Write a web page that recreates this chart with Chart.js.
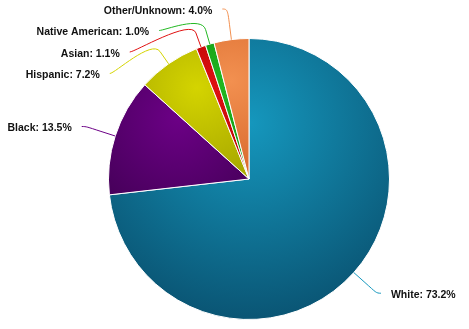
<!DOCTYPE html>
<html>
<head>
<meta charset="utf-8">
<script src="https://cdn.jsdelivr.net/npm/chart.js@4"></script>
<style>
  html, body { margin: 0; padding: 0; background: #fff; }
  #wrap { width: 469px; height: 329px; }
</style>
</head>
<body>
<div id="wrap"><canvas id="chartCanvas"></canvas></div>
<script>
const categories = ['White', 'Black', 'Hispanic', 'Asian', 'Native American', 'Other/Unknown'];
const shares = [73.2, 13.5, 7.2, 1.1, 1.0, 4.0];
const sliceColors = ['#1597bd', '#6c0086', '#d4d400', '#e01212', '#22b822', '#f29050'];
const sliceShades = ['#0a5574', '#48005c', '#aaaa00', '#b00000', '#0f900f', '#d8682c'];

const total = shares.reduce((a, b) => a + b, 0);

// radial gradient per slice, centred at (0.5, 0.3) of the slice box
function sliceGradient(c) {
  const chart = c.chart, area = chart.chartArea, i = c.dataIndex;
  const base = sliceColors[i];
  if (!area) return base;
  const cx = (area.left + area.right) / 2, cy = (area.top + area.bottom) / 2;
  const r = (Math.min(area.right - area.left, area.bottom - area.top) - 1) / 2;
  let a0 = -Math.PI / 2;
  for (let k = 0; k < i; k++) a0 += shares[k] / total * 2 * Math.PI;
  const a1 = a0 + shares[i] / total * 2 * Math.PI;
  const xs = [cx, cx + r * Math.cos(a0), cx + r * Math.cos(a1)];
  const ys = [cy, cy + r * Math.sin(a0), cy + r * Math.sin(a1)];
  for (let q = -4; q <= 8; q++) {
    const a = q * Math.PI / 2;
    if (a > a0 && a < a1) { xs.push(cx + r * Math.cos(a)); ys.push(cy + r * Math.sin(a)); }
  }
  const x0 = Math.min(...xs), x1 = Math.max(...xs), y0 = Math.min(...ys), y1 = Math.max(...ys);
  const gx = x0 + 0.5 * (x1 - x0), gy = y0 + 0.3 * (y1 - y0);
  const gr = 0.7 * Math.max(x1 - x0, y1 - y0);
  const g = chart.ctx.createRadialGradient(gx, gy, 0, gx, gy, gr);
  g.addColorStop(0, base);
  g.addColorStop(1, sliceShades[i]);
  return g;
}

const labelPlugin = {
  id: 'pieLabels',
  afterDatasetsDraw(chart) {
    const meta = chart.getDatasetMeta(0);
    const ctx = chart.ctx;
    const dist = 31, gap = 21.5, breakOff = 15;
    const items = meta.data.map((arc, i) => {
      const mid = (arc.startAngle + arc.endAngle) / 2;
      const R = arc.outerRadius;
      return { i, arc, mid, R, left: Math.cos(mid) < 0, y: arc.y + (R + dist) * Math.sin(mid) };
    });
    [true, false].forEach(side => {
      const group = items.filter(it => it.left === side).sort((a, b) => a.y - b.y);
      let prev = -Infinity;
      group.forEach(it => { it.y = Math.max(it.y, prev + gap, 9); prev = it.y; });
    });

    ctx.save();
    ctx.font = "bold 10.5px 'Liberation Sans', Arial, sans-serif";
    ctx.textBaseline = 'middle';
    items.forEach(it => {
      const arc = it.arc;
      const RL = it.R + dist;
      const s = Math.max(-1, Math.min(1, (it.y - arc.y) / RL));
      const dir = it.left ? -1 : 1;
      const ax = arc.x + dir * (RL * Math.cos(Math.asin(s)) + 4);
      const tx = arc.x + it.R * Math.cos(it.mid), ty = arc.y + it.R * Math.sin(it.mid);
      const bx = arc.x + (it.R + breakOff) * Math.cos(it.mid), by = arc.y + (it.R + breakOff) * Math.sin(it.mid);

      ctx.beginPath();
      ctx.moveTo(ax, it.y);
      ctx.bezierCurveTo(ax - dir * 5, it.y, 2 * bx - tx, 2 * by - ty, bx, by);
      ctx.lineTo(tx, ty);
      ctx.strokeStyle = sliceColors[it.i];
      ctx.lineWidth = 1;
      ctx.stroke();

      ctx.fillStyle = '#111';
      ctx.textAlign = it.left ? 'right' : 'left';
      const label = `${categories[it.i]}: ${shares[it.i].toFixed(1)}%`;
      ctx.fillText(label, ax + dir * 10, it.y + 2);
    });
    ctx.restore();
  }
};

new Chart(document.getElementById('chartCanvas'), {
  type: 'pie',
  data: {
    labels: categories,
    datasets: [{
      data: shares,
      backgroundColor: sliceGradient,
      borderColor: '#fff',
      borderWidth: 1
    }]
  },
  options: {
    responsive: true,
    maintainAspectRatio: false,
    animation: false,
    layout: { padding: { left: 108, right: 79, top: 38, bottom: 9 } },
    plugins: {
      legend: { display: false },
      tooltip: { enabled: false }
    }
  },
  plugins: [labelPlugin]
});
</script>
</body>
</html>
